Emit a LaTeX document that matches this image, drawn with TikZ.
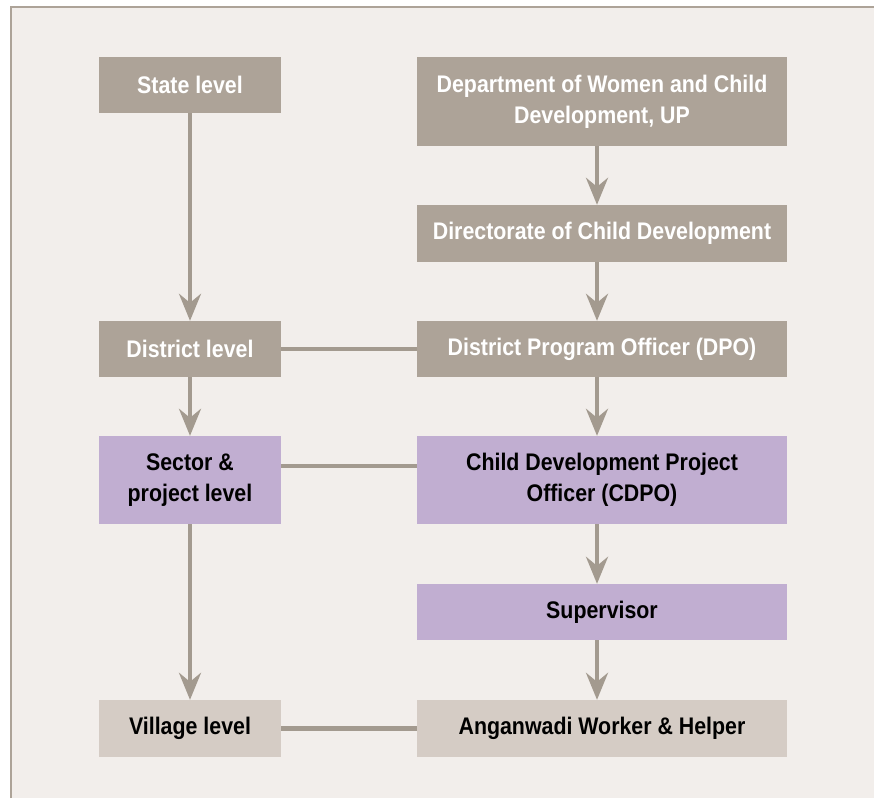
\documentclass[tikz,border=0pt]{standalone}
\usepackage{fontspec}
\setmainfont{Liberation Sans}[FakeStretch=0.89]
\usetikzlibrary{arrows.meta}
\definecolor{bgc}{HTML}{F2EEEB}
\definecolor{grayc}{HTML}{ADA398}
\definecolor{purc}{HTML}{C1AED1}
\definecolor{lightc}{HTML}{D5CCC5}
\definecolor{linec}{HTML}{A39A8F}
\tikzset{
  base/.style={rectangle, inner sep=0pt, align=center, font=\bfseries\fontsize{24}{31}\selectfont},
  graybox/.style={base, fill=grayc, text=white},
  purbox/.style={base, fill=purc, text=black},
  litbox/.style={base, fill=lightc, text=black},
  narrow/.style={minimum width=182pt},
  wide/.style={minimum width=370pt},
  arr/.style={draw=linec, line width=4pt, -{Stealth[length=27pt,width=22pt,inset=9pt]}},
  conn/.style={draw=linec, line width=4.5pt}
}
\begin{document}
\begin{tikzpicture}[x=1pt,y=-1pt]
\useasboundingbox (0,0) rectangle (874,798);
\fill[bgc] (11,7) rectangle (874,798);
\draw[grayc, line width=2pt] (11,798) -- (11,7) -- (874,7);

\node[graybox, narrow, minimum height=56pt] (state) at (190,85) {State level};
\node[graybox, wide, minimum height=89pt] (dept) at (602,101.5) {Department of Women and Child\\Development, UP};
\node[graybox, wide, minimum height=57pt] (dir) at (602,233.5) {Directorate of Child Development};
\node[graybox, narrow, minimum height=56pt] (distl) at (190,349) {District level};
\node[graybox, wide, minimum height=56pt] (dpo) at (602,349) {District Program Officer (DPO)};
\node[purbox, narrow, minimum height=88pt] (sector) at (190,480) {Sector \&\\project level};
\node[purbox, wide, minimum height=88pt] (cdpo) at (602,480) {Child Development Project\\Officer (CDPO)};
\node[purbox, wide, minimum height=56pt] (sup) at (602,612) {Supervisor};
\node[litbox, narrow, minimum height=57pt] (village) at (190,728.5) {Village level};
\node[litbox, wide, minimum height=57pt] (angan) at (602,728.5) {Anganwadi Worker \& Helper};

\draw[arr] (state.south) -- (distl.north);
\draw[arr] (distl.south) -- (sector.north);
\draw[arr] (sector.south) -- (village.north);
\draw[arr] ([xshift=-5pt]dept.south) -- ([xshift=-5pt]dir.north);
\draw[arr] ([xshift=-5pt]dir.south) -- ([xshift=-5pt]dpo.north);
\draw[arr] ([xshift=-5pt]dpo.south) -- ([xshift=-5pt]cdpo.north);
\draw[arr] ([xshift=-5pt]cdpo.south) -- ([xshift=-5pt]sup.north);
\draw[arr] ([xshift=-5pt]sup.south) -- ([xshift=-5pt]angan.north);

\draw[conn] (distl.east) -- (dpo.west);
\draw[conn] ([yshift=14pt]sector.east) -- ([yshift=14pt]cdpo.west);
\draw[conn] (village.east) -- (angan.west);
\end{tikzpicture}
\end{document}
